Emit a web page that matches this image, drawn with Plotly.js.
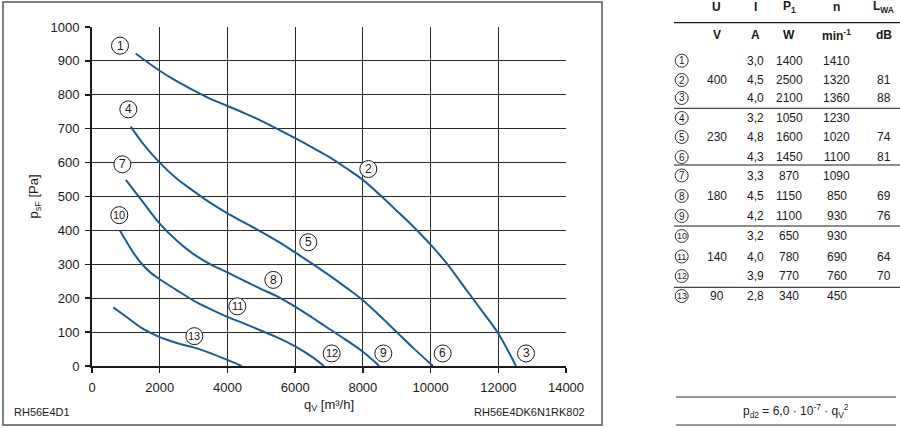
<!DOCTYPE html>
<html>
<head>
<meta charset="utf-8">
<script src="https://cdn.plot.ly/plotly-3.0.1.min.js"></script>
<style>html,body{margin:0;padding:0;background:#fff;}#chart{width:900px;height:428px;}</style>
</head>
<body>
<div id="chart"></div>
<script>
// ---- Data ----
// Curve 1-2-3 (400 V)
const curveA_q = [1290, 2000, 2500, 3000, 3500, 4000, 4500, 5000, 5500, 6000, 6500, 7000, 7500, 8000, 8500, 9000, 9500, 10000, 10500, 11000, 11500, 12000, 12523];
const curveA_p = [922, 871, 840, 813, 788, 767, 746, 723, 698, 672, 645, 617, 584, 549, 505, 458, 410, 358, 300, 232, 165, 96, 0];
// Curve 4-5-6 (230 V)
const curveB_q = [1143, 1500, 2000, 2500, 3000, 3500, 4000, 4500, 5000, 5500, 6000, 6500, 7000, 7500, 8000, 8500, 9000, 9500, 10070];
const curveB_p = [706, 657, 600, 553, 516, 481, 450, 423, 396, 367, 335, 302, 268, 232, 194, 148, 100, 52, 0];
// Curve 7-8-9 (180 V)
const curveC_q = [1000, 1500, 2000, 2500, 3000, 3500, 4000, 4500, 5000, 5500, 6000, 6500, 7000, 7500, 8000, 8486];
const curveC_p = [549, 484, 420, 370, 330, 300, 276, 251, 227, 204, 175, 143, 110, 77, 42, 0];
// Curve 10-11-12 (140 V)
const curveD_q = [827, 1000, 1250, 1500, 1750, 2000, 2500, 3000, 3500, 4000, 4500, 5000, 5500, 6000, 6500, 6852];
const curveD_p = [399, 370, 330, 298, 274, 256, 224, 193, 168, 145, 125, 104, 83, 58, 27, 0];
// Curve 13 (90 V)
const curveE_q = [630, 1000, 1500, 2000, 2500, 3000, 3500, 4000, 4420];
const curveE_p = [173, 146, 110, 85, 68, 55, 38, 18, 0];

// Operating point labels on the chart
const labelText = ['1','2','3','4','5','6','7','8','9','10','11','12','13'];
const labelQ = [827, 8161, 12819, 1073, 6389, 10358, 896, 5355, 8605, 807, 4292, 7079, 3022];
const labelP = [945, 581, 37, 757, 365, 37, 595, 254, 37, 445, 176, 37, 88];

// Axis ticks
const xTicks = [0, 2000, 4000, 6000, 8000, 10000, 12000, 14000];
const yTicks = [0, 100, 200, 300, 400, 500, 600, 700, 800, 900, 1000];

// Table
const tableIds = ['1','2','3','4','5','6','7','8','9','10','11','12','13'];
const tableU = ['', '400', '', '', '230', '', '', '180', '', '', '140', '', '90'];
const tableI = ['3,0','4,5','4,0','3,2','4,8','4,3','3,3','4,5','4,2','3,2','4,0','3,9','2,8'];
const tableP1 = ['1400','2500','2100','1050','1600','1450','870','1150','1100','650','780','770','340'];
const tableN = ['1410','1320','1360','1230','1020','1100','1090','850','930','930','690','760','450'];
const tableL = ['','81','88','','74','81','','69','76','','64','70',''];
const headTop = ['U','I','P<sub>1</sub>','n','L<sub>WA</sub>'];
const headUnit = ['V','A','W','min<sup>-1</sup>','dB'];

// ---- Layout helpers (pixel -> paper) ----
const L = 92, R = 566, T = 27, B = 366;
const px = x => (x - L) / (R - L);
const py = y => (B - y) / (B - T);

const FONT = 'Liberation Sans, Arial, Helvetica, sans-serif';
const BLUE = '#1c5a96';
const INK = '#1a1a1a';

function curve(q, p) {
  return {x: q, y: p, type: 'scatter', mode: 'lines',
    line: {color: BLUE, width: 2, shape: 'spline', smoothing: 1},
    hoverinfo: 'skip', showlegend: false};
}

const traces = [
  curve(curveA_q, curveA_p),
  curve(curveB_q, curveB_p),
  curve(curveC_q, curveC_p),
  curve(curveD_q, curveD_p),
  curve(curveE_q, curveE_p)
];

const annotations = [];
const shapes = [];

// chart operating-point labels (circle + number), placed in data coordinates
labelText.forEach((t, i) => {
  shapes.push({type: 'circle', xref: 'x', yref: 'y', xsizemode: 'pixel', ysizemode: 'pixel',
    xanchor: labelQ[i], yanchor: labelP[i], x0: -8.5, x1: 8.5, y0: -8.5, y1: 8.5,
    line: {color: INK, width: 1}, fillcolor: '#fff', layer: 'above'});
  annotations.push({xref: 'x', yref: 'y', x: labelQ[i], y: labelP[i], xanchor: 'center', yanchor: 'middle',
    text: t, showarrow: false, font: {family: FONT, size: t.length > 1 ? 11 : 12, color: INK}});
});

// outer frame of the chart part
shapes.push({type: 'rect', xref: 'paper', yref: 'paper',
  x0: px(3), x1: px(602), y0: py(425), y1: py(2),
  line: {color: '#555', width: 1.5}, fillcolor: 'rgba(0,0,0,0)'});

// bottom-corner labels
annotations.push({xref: 'paper', yref: 'paper', x: px(12), y: py(412), xanchor: 'left', yanchor: 'middle',
  text: 'RH56E4D1', showarrow: false, font: {family: FONT, size: 11, color: INK}});
annotations.push({xref: 'paper', yref: 'paper', x: px(587), y: py(412), xanchor: 'right', yanchor: 'middle',
  text: 'RH56E4DK6N1RK802', showarrow: false, font: {family: FONT, size: 11, color: INK}});

// table
const colX = [716.7, 755, 789, 836.7, 883.5];
const headY1 = 7, headY2 = 34.5;
headTop.forEach((t, i) => annotations.push({xref: 'paper', yref: 'paper', x: px(colX[i]), y: py(headY1),
  xanchor: 'center', yanchor: 'middle', text: '<b>' + t + '</b>', showarrow: false,
  font: {family: FONT, size: 12, color: INK}}));
headUnit.forEach((t, i) => annotations.push({xref: 'paper', yref: 'paper', x: px(colX[i]), y: py(headY2),
  xanchor: 'center', yanchor: 'middle', text: '<b>' + t + '</b>', showarrow: false,
  font: {family: FONT, size: 12, color: INK}}));

const rowY = [60.7, 80, 98, 118, 137, 157, 175.5, 196, 216, 236, 256.5, 276, 296];
const circX = 681.7;
tableIds.forEach((id, r) => {
  const y = rowY[r];
  shapes.push({type: 'circle', xref: 'paper', yref: 'paper', xsizemode: 'pixel', ysizemode: 'pixel',
    xanchor: px(circX), yanchor: py(y), x0: -6.5, x1: 6.5, y0: -6.5, y1: 6.5,
    line: {color: INK, width: 0.9}, fillcolor: '#fff'});
  annotations.push({xref: 'paper', yref: 'paper', x: px(circX), y: py(y), xanchor: 'center', yanchor: 'middle',
    text: id, showarrow: false, font: {family: FONT, size: id.length > 1 ? 9 : 10, color: INK}});
  const cells = [tableU[r], tableI[r], tableP1[r], tableN[r], tableL[r]];
  cells.forEach((c, i) => {
    if (c === '') return;
    annotations.push({xref: 'paper', yref: 'paper', x: px(colX[i]), y: py(y), xanchor: 'center', yanchor: 'middle',
      text: c, showarrow: false, font: {family: FONT, size: 12, color: INK}});
  });
});

// table rules
[22.7, 108.3, 165, 226, 287.3].forEach((y, k) => shapes.push({type: 'line', xref: 'paper', yref: 'paper',
  x0: px(674), x1: px(900), y0: py(y), y1: py(y), line: {color: INK, width: k === 0 ? 1.2 : 1}}));
[397, 425].forEach(y => shapes.push({type: 'line', xref: 'paper', yref: 'paper',
  x0: px(676), x1: px(896), y0: py(y), y1: py(y), line: {color: '#333', width: 1}}));
annotations.push({xref: 'paper', yref: 'paper', x: px(795.5), y: py(411), xanchor: 'center', yanchor: 'middle',
  text: 'p<sub>d2</sub> = 6,0 · 10<sup>-7</sup> · q<sub>V</sub><sup>2</sup>', showarrow: false,
  font: {family: FONT, size: 12, color: INK}});

const layout = {
  width: 900, height: 428,
  margin: {l: L, r: 900 - R, t: T, b: 428 - B, pad: 0},
  paper_bgcolor: '#fff', plot_bgcolor: '#fff',
  font: {family: FONT, size: 13, color: INK},
  showlegend: false,
  xaxis: {
    range: [0, 14000], tickvals: xTicks, ticktext: xTicks.map(String),
    showgrid: true, gridcolor: '#2a2a2a', gridwidth: 1,
    zeroline: false, showline: true, linecolor: INK, linewidth: 2, mirror: false,
    ticks: 'outside', ticklen: 5, tickwidth: 1.5, tickcolor: INK, ticklabelstandoff: 3,
    tickfont: {family: FONT, size: 13, color: INK},
    title: {text: 'q<sub>V</sub> [m³/h]', font: {family: FONT, size: 13, color: INK}, standoff: 6},
    fixedrange: true
  },
  yaxis: {
    range: [0, 1000], tickvals: yTicks, ticktext: yTicks.map(String),
    showgrid: true, gridcolor: '#2a2a2a', gridwidth: 1,
    zeroline: false, showline: true, linecolor: INK, linewidth: 2, mirror: false,
    ticks: 'outside', ticklen: 5, tickwidth: 1.5, tickcolor: INK, ticklabelstandoff: 3,
    tickfont: {family: FONT, size: 13, color: INK},
    title: {text: 'p<sub>sF</sub> [Pa]', font: {family: FONT, size: 13, color: INK}, standoff: 9},
    fixedrange: true
  },
  shapes: shapes,
  annotations: annotations
};

Plotly.newPlot('chart', traces, layout, {displayModeBar: false, staticPlot: true});
</script>
</body>
</html>
